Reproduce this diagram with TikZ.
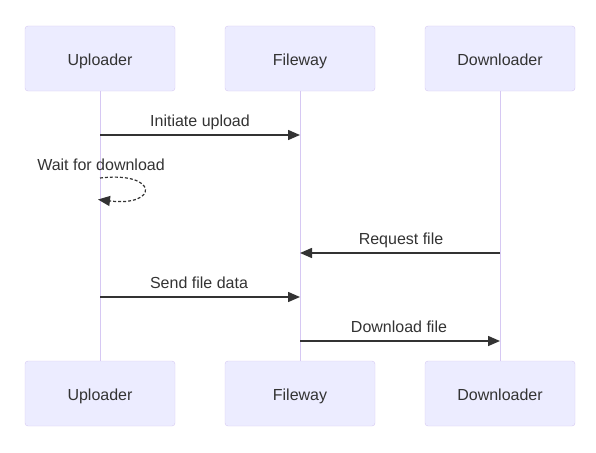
\documentclass[tikz,border=0pt]{standalone}
\usepackage{fontspec}
\setmainfont{Liberation Sans}
\usetikzlibrary{arrows.meta,positioning}
\definecolor{actfill}{HTML}{ECECFF}
\definecolor{actline}{RGB}{214,200,243}
\definecolor{ink}{HTML}{333333}
\tikzset{every node/.append style={font=\fontsize{16}{19}\selectfont, text=ink,
    text height=13.5pt, text depth=0pt}}

\begin{document}
\begin{tikzpicture}[x=1pt,y=-1pt,
    actor/.style={draw=actline, fill=actfill, rounded corners=3pt,
                  minimum width=150pt, minimum height=65pt, inner sep=0pt},
    life/.style={draw=actline, line width=1pt},
    msg/.style={draw=ink, line width=1.5pt, -{Triangle[length=12pt,width=10pt]}},
    self/.style={msg, line width=1.2pt, dash pattern=on 3pt off 2pt}]
  \useasboundingbox (0,0) rectangle (596,452);

  % actors, top and bottom
  \node[actor] (upT) at (100,58.5) {Uploader};
  \node[actor] (fwT) at (300,58.5) {Fileway};
  \node[actor] (dlT) at (500,58.5) {Downloader};
  \node[actor] (upB) at (100,393.5) {Uploader};
  \node[actor] (fwB) at (300,393.5) {Fileway};
  \node[actor] (dlB) at (500,393.5) {Downloader};

  \draw[life] (upT) -- (upB);
  \draw[life] (fwT) -- (fwB);
  \draw[life] (dlT) -- (dlB);

  % messages
  \coordinate (u1) at (100,135);  \coordinate (f1) at (300,135);
  \coordinate (u2) at (100,178);  \coordinate (u3) at (98,199.5);
  \coordinate (d4) at (500,253);  \coordinate (f4) at (300,253);
  \coordinate (u5) at (100,297);  \coordinate (f5) at (300,297);
  \coordinate (f6) at (300,341);  \coordinate (d6) at (500,341);

  \draw[msg] (u1) -- (f1);
  \draw (200,120) node {Initiate upload};

  \draw[self] (u2) .. controls (159,171) and (159,207) .. (u3);
  \draw (101,164) node {Wait for download};

  \draw[msg] (d4) -- (f4);
  \draw (401,238) node {Request file};

  \draw[msg] (u5) -- (f5);
  \draw (199,282) node {Send file data};

  \draw[msg] (f6) -- (d6);
  \draw (399,326) node {Download file};
\end{tikzpicture}
\end{document}
